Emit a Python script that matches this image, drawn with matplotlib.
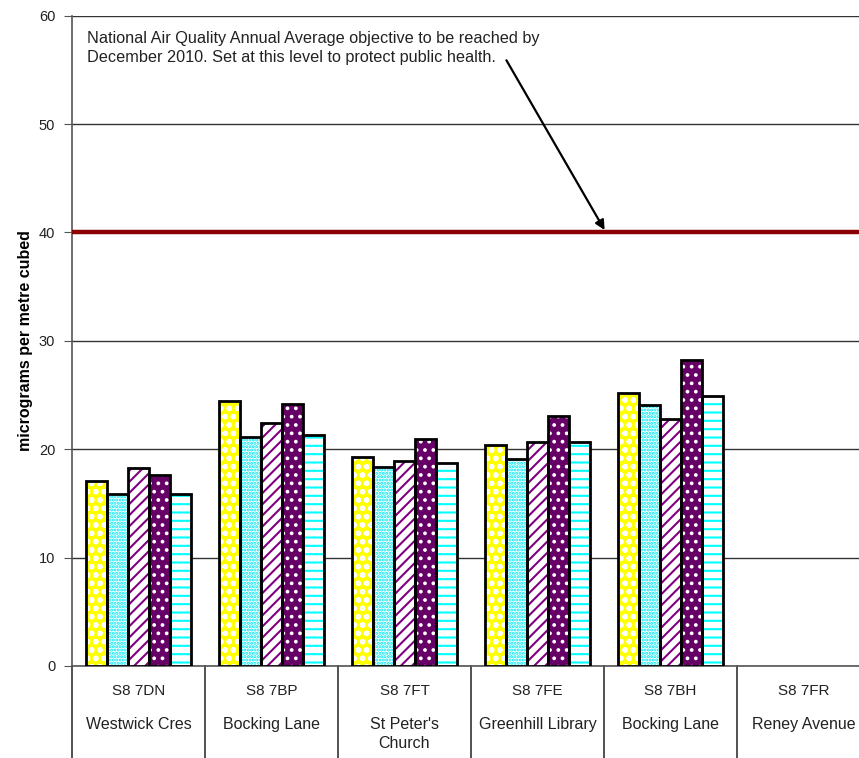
import numpy as np
import matplotlib.pyplot as plt

plt.rcParams['font.family'] = ['Liberation Sans', 'DejaVu Sans']
plt.rcParams['hatch.linewidth'] = 1.5

# data
postcodes = ['S8 7DN', 'S8 7BP', 'S8 7FT', 'S8 7FE', 'S8 7BH', 'S8 7FR']
places = ['Westwick Cres', 'Bocking Lane', "St Peter's\nChurch", 'Greenhill Library',
          'Bocking Lane', 'Reney Avenue']
yr1 = [17.1, 24.4, 19.3, 20.4, 25.2, np.nan]
yr2 = [15.9, 21.1, 18.4, 19.1, 24.1, np.nan]
yr3 = [18.3, 22.4, 18.9, 20.7, 22.8, np.nan]
yr4 = [17.6, 24.2, 20.9, 23.1, 28.2, np.nan]
yr5 = [15.9, 21.3, 18.7, 20.7, 24.9, np.nan]
objective = 40

series = [yr1, yr2, yr3, yr4, yr5]
# (face, hatch colour, hatch)
styles = [('#FFFF00', 'white', 'oo'),
          ('white', '#00E8F0', '.....'),
          ('white', '#800080', '///'),
          ('#660066', 'white', '..'),
          ('white', '#00FFFF', '--')]

fig = plt.figure(figsize=(8.59, 7.58), dpi=100)
ax = fig.add_axes([0.0838, 0.1214, 0.929, 0.858])

x = np.arange(len(postcodes))
w = 0.158
for i, (vals, (fc, hc, h)) in enumerate(zip(series, styles)):
    pos = x + (i - 2) * w
    ax.bar(pos, vals, w, color=fc, edgecolor=hc, hatch=h, linewidth=0, zorder=3)
    ax.bar(pos, vals, w, fill=False, edgecolor='black', linewidth=2, zorder=4)

ax.axhline(objective, color='#8B0000', linewidth=3.2, zorder=5)

ax.set_ylim(0, 60)
ax.set_xlim(-0.5, len(postcodes) - 0.5)
ax.set_yticks(range(0, 61, 10))
ax.yaxis.grid(True, color='#333333', linewidth=1)
ax.set_axisbelow(True)
ax.tick_params(axis='y', labelsize=10.5, length=6, pad=6, color='#555555', labelcolor='#222222')
ax.set_xticks([])
for s in ['top', 'right']:
    ax.spines[s].set_visible(False)
ax.spines['left'].set_color('#555555')
ax.spines['bottom'].set_color('#555555')
ax.spines['left'].set_linewidth(1.2)
ax.spines['bottom'].set_linewidth(1.2)
ax.set_ylabel('micrograms per metre cubed', fontsize=11.5, fontweight='bold', labelpad=4)

# category table below the axis
trans = ax.get_xaxis_transform()
for b in np.arange(len(postcodes) + 1) - 0.5:
    ax.plot([b, b], [0, -0.2], transform=trans, color='#333333', lw=1.2, clip_on=False)
for xi, pc, pl in zip(x, postcodes, places):
    ax.text(xi, -0.038, pc, transform=trans, ha='center', va='center', fontsize=11, color='#222222')
    ax.text(xi, -0.078, pl, transform=trans, ha='center', va='top',
            fontsize=11.5, color='#222222', linespacing=1.35)

ax.text(-0.39, 58.6, 'National Air Quality Annual Average objective to be reached by\n'
        'December 2010. Set at this level to protect public health.',
        fontsize=11.7, va='top', ha='left', color='#222222', linespacing=1.35)
ax.annotate('', xy=(3.515, objective), xytext=(2.756, 56.1),
            arrowprops=dict(arrowstyle='-|>', color='black', lw=1.6, mutation_scale=14),
            zorder=6)

fig.savefig('out.png', dpi=100)
